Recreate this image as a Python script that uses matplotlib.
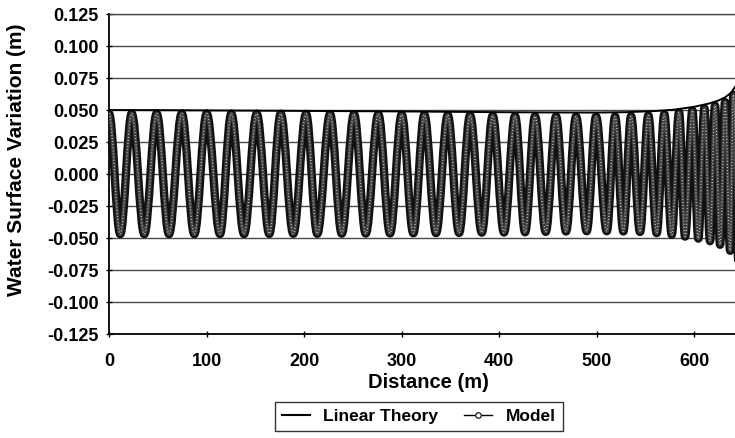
import numpy as np
import matplotlib
matplotlib.use("Agg")
import matplotlib.pyplot as plt
from matplotlib.path import Path
from matplotlib.patches import PathPatch
from matplotlib.lines import Line2D

plt.rcParams['font.family'] = ['Liberation Sans', 'DejaVu Sans']
plt.rcParams['font.weight'] = 'bold'

# Linear theory envelope (distance m, elevation m)
lin_x = [0, 50, 100, 150, 200, 250, 300, 350, 400, 450, 500, 530, 560, 580,
         600, 615, 625, 632, 638, 642]
lin_y = [0.0500, 0.0499, 0.0497, 0.0495, 0.0493, 0.0491, 0.0489, 0.0486, 0.0483,
         0.0481, 0.0480, 0.0483, 0.0492, 0.0503, 0.0525, 0.0550, 0.0574, 0.0600,
         0.0635, 0.0680]

# Model: crest and trough positions
crest_x = [0, 23.3, 48.9, 74.6, 100.2, 125.4, 151.5, 176.1, 202.1, 226.7, 251.3,
           276.2, 300.2, 323.4, 347.4, 370.3, 393.5, 416.4, 436.9, 458.5, 479.0,
           499.5, 519.0, 535.4, 553.1, 569.5, 584.6, 598.3, 610.6, 621.5, 631.8,
           640.3]
crest_y = [0.0473, 0.0473, 0.0473, 0.0473, 0.0473, 0.0472, 0.0471, 0.0471, 0.0470,
           0.0469, 0.0468, 0.0467, 0.0465, 0.0463, 0.0461, 0.0459, 0.0456, 0.0453,
           0.0451, 0.0450, 0.0449, 0.0449, 0.0449, 0.0452, 0.0458, 0.0468, 0.0481,
           0.0497, 0.0515, 0.0535, 0.0562, 0.0620]
trough_x = [11.5, 36.2, 61.5, 87.5, 113.8, 138.5, 164.4, 189.0, 213.6, 238.7, 263.3,
            288.2, 312.1, 335.4, 359.0, 382.3, 405.1, 426.7, 447.9, 468.7, 489.9,
            510.5, 527.5, 544.6, 561.7, 577.1, 590.8, 604.4, 616.4, 626.7, 637.0,
            645.5]
trough_y = [-0.0470, -0.0470, -0.0470, -0.0470, -0.0469, -0.0469, -0.0468, -0.0467,
            -0.0467, -0.0466, -0.0465, -0.0464, -0.0463, -0.0462, -0.0460, -0.0458,
            -0.0457, -0.0455, -0.0452, -0.0449, -0.0447, -0.0447, -0.0449, -0.0453,
            -0.0462, -0.0475, -0.0489, -0.0505, -0.0525, -0.0553, -0.0600, -0.0680]

y_ticks = [-0.125, -0.100, -0.075, -0.050, -0.025, 0.000, 0.025, 0.050, 0.075,
           0.100, 0.125]
x_ticks = [0, 100, 200, 300, 400, 500, 600]

fig = plt.figure(figsize=(7.35, 4.38), dpi=100)
ax = fig.add_axes([0.1483, 0.2374, 0.8517, 0.7306])

ax.set_xlim(0, 642)
ax.set_ylim(-0.125, 0.125)

# smooth model curve through the extremes (horizontal tangent at each peak)
ext = sorted(zip(crest_x + trough_x, crest_y + trough_y))
verts = [ext[0]]
codes = [Path.MOVETO]
a = 1 - 2 / np.pi
for (x0, y0), (x1, y1) in zip(ext[:-1], ext[1:]):
    d = x1 - x0
    verts += [(x0 + a * d, y0), (x1 - a * d, y1), (x1, y1)]
    codes += [Path.CURVE4] * 3
path = Path(verts, codes)
band = [('#111111', 6.0, '-'), ('#404040', 2.6, '-'), ('#cfcfcf', 0.9, (0, (0.7, 1.8)))]
for z, (col, w, ls) in enumerate(band):
    ax.add_patch(PathPatch(path, fill=False, edgecolor=col, lw=w, linestyle=ls,
                           joinstyle='round', capstyle='butt', zorder=3 + z))

ax.plot(lin_x, lin_y, color='black', lw=1.4, zorder=6)

ax.set_yticks(y_ticks)
ax.set_yticklabels([f"{v:.3f}" for v in y_ticks])
ax.set_xticks(x_ticks)
ax.grid(axis='y', color='#4a4a4a', lw=1.0)
ax.set_axisbelow(True)
ax.spines['right'].set_visible(False)
ax.spines['top'].set_color('#4a4a4a')
ax.spines['top'].set_linewidth(1.0)
ax.spines['left'].set_linewidth(1.3)
ax.spines['bottom'].set_linewidth(1.3)
ax.tick_params(axis='both', direction='inout', length=5, width=1.0,
               labelsize=13, pad=5)
ax.tick_params(axis='x', pad=11, labelsize=13)

ax.set_xlabel('Distance (m)', fontsize=14.5, fontweight='bold')
ax.xaxis.set_label_coords(0.51, -0.122)
ax.set_ylabel('Water Surface Variation (m)', fontsize=15, fontweight='bold')
ax.yaxis.set_label_coords(-0.133, 0.545)

handles = [Line2D([], [], color='black', lw=1.5),
           Line2D([], [], color='black', lw=1.0, marker='o', markersize=4,
                  markerfacecolor='white', markeredgewidth=0.8)]
leg = fig.legend(handles, ['Linear Theory', 'Model'], loc='center',
                 bbox_to_anchor=(0.57, 0.05), ncol=2, frameon=True,
                 fancybox=False, edgecolor='black', fontsize=12.5,
                 handlelength=1.6, columnspacing=1.5, borderpad=0.4)
leg.get_frame().set_linewidth(1.0)

fig.savefig('out.png', dpi=100)
